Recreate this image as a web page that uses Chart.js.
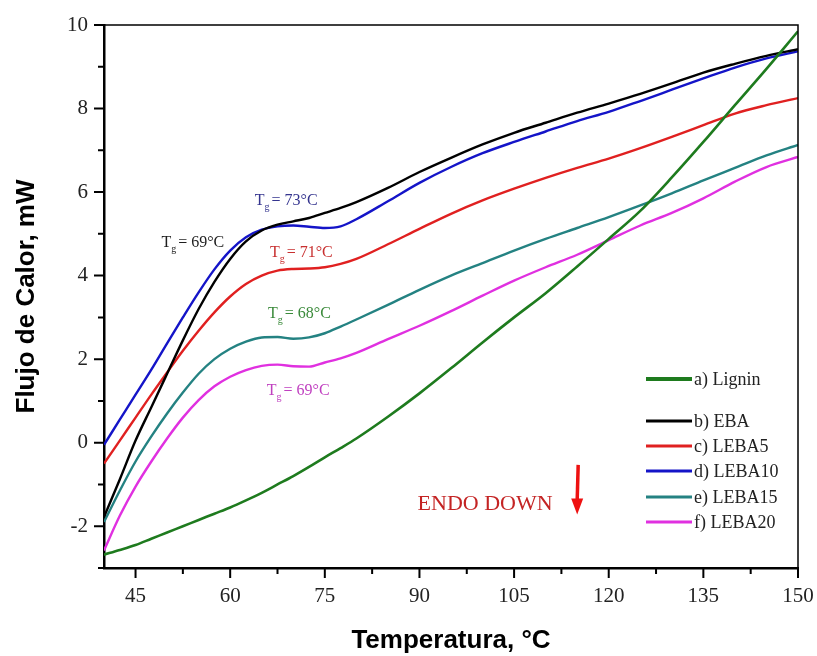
<!DOCTYPE html>
<html>
<head>
<meta charset="utf-8">
<script src="https://cdn.jsdelivr.net/npm/chart.js@4.4.1/dist/chart.umd.min.js"></script>
<style>
  body { margin: 0; background: #fff; }
  #wrap { width: 817px; height: 656px; }
</style>
</head>
<body>
<div id="wrap"><canvas id="dsc" width="817" height="656"></canvas></div>
<script>
// DSC: temperatura (°C) vs flujo de calor (mW)
const temperatura = [40, 42.5, 45, 47.5, 50, 52.5, 55, 57.5, 60, 62.5, 65, 67.5, 70, 72.5, 75, 77.5,
                     80, 85, 90, 95, 100, 105, 110, 115, 120, 125, 130, 135, 140, 145, 150];

const lignin = [-2.68, -2.57, -2.45, -2.3, -2.15, -2.0, -1.85, -1.7, -1.55, -1.38, -1.2, -1.0, -0.8, -0.58, -0.35, -0.13,
                0.1, 0.62, 1.18, 1.78, 2.4, 3.0, 3.58, 4.22, 4.88, 5.55, 6.35, 7.2, 8.08, 8.95, 9.85];
const eba = [-1.78, -0.88, 0.05, 0.85, 1.65, 2.45, 3.2, 3.85, 4.4, 4.82, 5.08, 5.22, 5.3, 5.38, 5.5, 5.62,
             5.76, 6.1, 6.48, 6.82, 7.14, 7.42, 7.66, 7.9, 8.12, 8.35, 8.6, 8.86, 9.07, 9.26, 9.42];
const leba5 = [-0.5, 0.05, 0.6, 1.15, 1.68, 2.2, 2.68, 3.12, 3.5, 3.8, 4.0, 4.12, 4.16, 4.17, 4.2, 4.28,
               4.4, 4.75, 5.12, 5.48, 5.8, 6.08, 6.34, 6.58, 6.8, 7.05, 7.32, 7.6, 7.88, 8.08, 8.25];
const leba10 = [-0.05, 0.55, 1.15, 1.75, 2.38, 3.0, 3.6, 4.15, 4.6, 4.92, 5.1, 5.18, 5.2, 5.17, 5.14, 5.18,
                5.35, 5.78, 6.22, 6.6, 6.93, 7.2, 7.45, 7.7, 7.92, 8.18, 8.45, 8.72, 8.98, 9.2, 9.37];
const leba15 = [-1.9, -1.15, -0.45, 0.15, 0.7, 1.2, 1.65, 2.0, 2.25, 2.42, 2.52, 2.53, 2.49, 2.52, 2.62, 2.78,
                2.95, 3.3, 3.66, 4.0, 4.3, 4.6, 4.88, 5.14, 5.4, 5.68, 5.97, 6.28, 6.58, 6.88, 7.13];
const leba20 = [-2.58, -1.75, -1.05, -0.45, 0.1, 0.6, 1.02, 1.35, 1.58, 1.74, 1.84, 1.87, 1.83, 1.82, 1.92, 2.02,
                2.15, 2.48, 2.8, 3.15, 3.52, 3.88, 4.2, 4.5, 4.85, 5.2, 5.5, 5.85, 6.25, 6.6, 6.84];

const xTicks = [45, 60, 75, 90, 105, 120, 135, 150];
const xMinor = [52.5, 67.5, 82.5, 97.5, 112.5, 127.5, 142.5];
const yTicks = [-2, 0, 2, 4, 6, 8, 10];
const yMinor = [-3, -1, 1, 3, 5, 7, 9];

// etiquetas de Tg (posición en unidades de los ejes)
const tgLabels = [
  { text: '69°C', x: 49.1, y: 4.69, color: '#1e1e1e' },
  { text: '73°C', x: 63.9, y: 5.69, color: '#35358f' },
  { text: '71°C', x: 66.3, y: 4.45, color: '#c83030' },
  { text: '68°C', x: 66.0, y: 2.99, color: '#3a8a3a' },
  { text: '69°C', x: 65.8, y: 1.15, color: '#c040c0' }
];

const series = [
  { label: 'a) Lignin', data: lignin, color: '#1e7b1e', width: 2.6, legendWidth: 4 },
  { label: 'b) EBA', data: eba, color: '#000000', width: 2.4, legendWidth: 3 },
  { label: 'c) LEBA5', data: leba5, color: '#e02020', width: 2.4, legendWidth: 3 },
  { label: 'd) LEBA10', data: leba10, color: '#1414c8', width: 2.4, legendWidth: 3 },
  { label: 'e) LEBA15', data: leba15, color: '#248282', width: 2.4, legendWidth: 3 },
  { label: 'f) LEBA20', data: leba20, color: '#e030e0', width: 2.4, legendWidth: 3 }
];

const serif = 'Liberation Serif';
const sans = 'Liberation Sans';

const extras = {
  id: 'extras',
  afterDraw(chart) {
    const ctx = chart.ctx;
    const a = chart.chartArea;
    const xs = chart.scales.x, ys = chart.scales.y;
    ctx.save();

    // marco superior y derecho
    ctx.strokeStyle = '#000';
    ctx.lineWidth = 1.5;
    ctx.beginPath();
    ctx.moveTo(a.left, a.top);
    ctx.lineTo(a.right, a.top);
    ctx.lineTo(a.right, a.bottom);
    ctx.stroke();

    // marcas de los ejes
    ctx.lineWidth = 2;
    ctx.beginPath();
    xTicks.forEach(v => { const p = xs.getPixelForValue(v); ctx.moveTo(p, a.bottom); ctx.lineTo(p, a.bottom + 10); });
    xMinor.forEach(v => { const p = xs.getPixelForValue(v); ctx.moveTo(p, a.bottom); ctx.lineTo(p, a.bottom + 6); });
    yTicks.forEach(v => { const p = ys.getPixelForValue(v); ctx.moveTo(a.left, p); ctx.lineTo(a.left - 10, p); });
    yMinor.forEach(v => { const p = ys.getPixelForValue(v); ctx.moveTo(a.left, p); ctx.lineTo(a.left - 6, p); });
    ctx.stroke();

    // Tg
    tgLabels.forEach(l => {
      let px = xs.getPixelForValue(l.x);
      const py = ys.getPixelForValue(l.y);
      ctx.fillStyle = l.color;
      ctx.textBaseline = 'alphabetic';
      ctx.textAlign = 'left';
      ctx.font = '16px ' + serif;
      ctx.fillText('T', px, py);
      px += ctx.measureText('T').width;
      ctx.font = '10px ' + serif;
      ctx.fillText('g', px, py + 5);
      px += ctx.measureText('g').width + 2;
      ctx.font = '16px ' + serif;
      ctx.fillText('= ' + l.text, px, py);
    });

    // ENDO DOWN y flecha
    ctx.fillStyle = '#c42424';
    ctx.font = '22px ' + serif;
    ctx.fillText('ENDO DOWN', xs.getPixelForValue(89.7), ys.getPixelForValue(-1.6));
    const ax = xs.getPixelForValue(115);
    const ay1 = ys.getPixelForValue(-0.53);
    const ay2 = ys.getPixelForValue(-1.72);
    ctx.strokeStyle = '#ee1111';
    ctx.fillStyle = '#ee1111';
    ctx.lineWidth = 3.5;
    ctx.beginPath();
    ctx.moveTo(ax + 1, ay1);
    ctx.lineTo(ax, ay2 - 14);
    ctx.stroke();
    ctx.beginPath();
    ctx.moveTo(ax - 6, ay2 - 16);
    ctx.lineTo(ax + 6, ay2 - 16);
    ctx.lineTo(ax, ay2);
    ctx.closePath();
    ctx.fill();

    // leyenda
    const rows = [0, 42, 67, 92, 118, 143];
    const top = a.bottom - 189;
    ctx.font = '18px ' + serif;
    ctx.textBaseline = 'middle';
    chart.data.datasets.forEach((d, i) => {
      const y = top + rows[i];
      ctx.strokeStyle = d.borderColor;
      ctx.lineWidth = series[i].legendWidth;
      ctx.beginPath();
      ctx.moveTo(a.right - 152, y);
      ctx.lineTo(a.right - 106, y);
      ctx.stroke();
      ctx.fillStyle = '#222';
      ctx.fillText(d.label, a.right - 104, y + 1);
    });
    ctx.restore();
  }
};

new Chart(document.getElementById('dsc'), {
  type: 'line',
  data: {
    datasets: series.map(s => ({
      label: s.label,
      data: temperatura.map((t, i) => ({ x: t, y: s.data[i] })),
      borderColor: s.color,
      borderWidth: s.width,
      pointRadius: 0,
      cubicInterpolationMode: 'monotone',
      fill: false
    }))
  },
  options: {
    responsive: false,
    animation: false,
    layout: { padding: { top: 25, right: 19, left: 0, bottom: 0 } },
    plugins: { legend: { display: false }, tooltip: { enabled: false } },
    scales: {
      x: {
        type: 'linear',
        min: 40,
        max: 150,
        afterBuildTicks: s => { s.ticks = xTicks.map(v => ({ value: v })); },
        afterFit: s => { s.height = 88; s.paddingLeft = 0; s.paddingRight = 0; },
        grid: { drawOnChartArea: false, drawTicks: false },
        border: { color: '#000', width: 2.5 },
        ticks: { padding: 16, color: '#222', font: { family: serif, size: 21 } },
        title: {
          display: true,
          text: 'Temperatura, °C',
          color: '#000',
          padding: { top: 0, bottom: 0 },
          font: { family: sans, size: 26, weight: 'bold' }
        }
      },
      y: {
        min: -3,
        max: 10,
        afterBuildTicks: s => { s.ticks = yTicks.map(v => ({ value: v })); },
        afterFit: s => { s.width = 104; s.paddingTop = 0; s.paddingBottom = 0; },
        grid: { drawOnChartArea: false, drawTicks: false },
        border: { color: '#000', width: 2.5 },
        ticks: { padding: 16, color: '#222', font: { family: serif, size: 21 } },
        title: {
          display: true,
          text: 'Flujo de Calor, mW',
          color: '#000',
          padding: { top: 11, bottom: 0 },
          font: { family: sans, size: 26, weight: 'bold' }
        }
      }
    }
  },
  plugins: [extras]
});
</script>
</body>
</html>
